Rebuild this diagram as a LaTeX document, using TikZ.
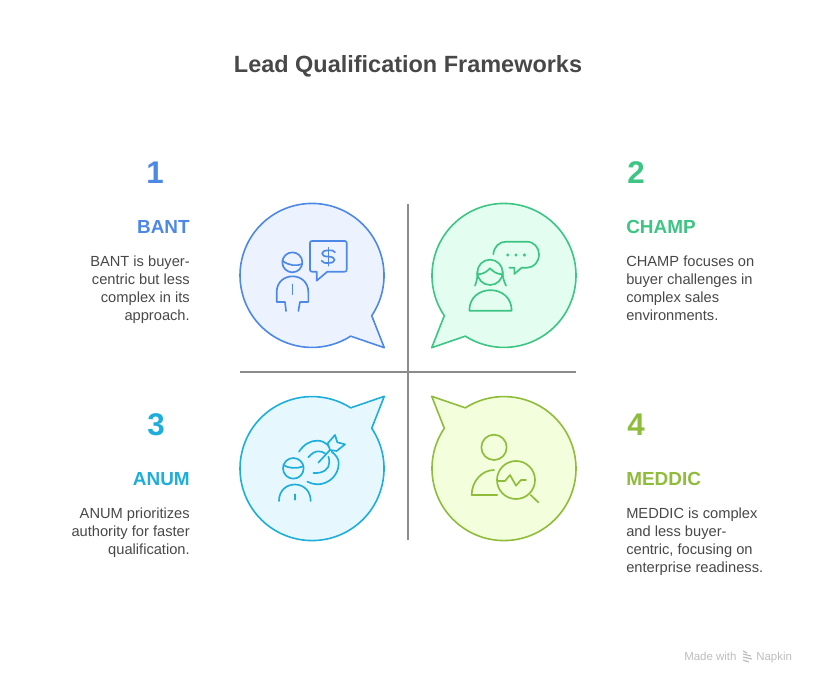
\documentclass[tikz,border=0pt]{standalone}
\usepackage{fontspec}
\setmainfont{Liberation Sans}
\usepackage{xcolor}
\usepackage{tikz}
\usetikzlibrary{calc}

\definecolor{bantline}{HTML}{4E88E7}
\definecolor{bantfill}{HTML}{EDF3FE}
\definecolor{champline}{HTML}{3CC583}
\definecolor{champfill}{HTML}{E3FDF0}
\definecolor{anumline}{HTML}{1EAEDB}
\definecolor{anumfill}{HTML}{E6F8FE}
\definecolor{meddicline}{HTML}{8FBC3A}
\definecolor{meddicfill}{HTML}{F3FEDD}
\definecolor{bodygray}{HTML}{484848}
\definecolor{axisgray}{HTML}{8C8C8C}
\definecolor{markgray}{HTML}{BDBDBD}

\tikzset{
  bubble/.style={line width=1.2pt,line join=round},
  iconline/.style={line width=1.25pt,line cap=round,line join=round},
  axisline/.style={axisgray,line width=1.1pt},
  titletext/.style={font=\fontsize{17.6pt}{22pt}\selectfont\bfseries,text=bodygray,inner sep=0pt},
  numtext/.style={font=\fontsize{23.5pt}{28pt}\selectfont\bfseries,inner sep=0pt},
  nametext/.style={font=\fontsize{14.2pt}{18pt}\selectfont\bfseries,inner sep=0pt},
  bodytext/.style={font=\fontsize{11pt}{13.5pt}\selectfont,text=bodygray,inner sep=0pt},
  marktext/.style={font=\fontsize{8.6pt}{10pt}\selectfont,text=markgray,inner sep=0pt}
}

\begin{document}
\begin{tikzpicture}[x=0.75pt,y=0.75pt,yscale=-1]
\useasboundingbox (0,0) rectangle (816,684);

\node[titletext] (title) at (408,66) {Lead Qualification Frameworks};

\draw[bubble,draw=bantline,fill=bantfill] (371.7,315.7) arc[start angle=34,end angle=-302.5,radius=72] -- (384.3,347.7) -- cycle;	% bubble 1
\draw[bubble,draw=champline,fill=champfill] (444.3,315.7) arc[start angle=146,end angle=482.5,radius=72] -- (431.7,347.7) -- cycle;	% bubble 2
\draw[bubble,draw=anumline,fill=anumfill] (371.7,428.3) arc[start angle=-34,end angle=302.5,radius=72] -- (384.3,396.3) -- cycle;	% bubble 3
\draw[bubble,draw=meddicline,fill=meddicfill] (444.3,428.3) arc[start angle=214,end angle=-122.5,radius=72] -- (431.7,396.3) -- cycle;	% bubble 4

\coordinate (axistop) at (408,204);
\coordinate (axisbottom) at (408,540);
\coordinate (axisleft) at (240,372);
\coordinate (axisright) at (576,372);
\draw[axisline] (axistop) -- (axisbottom);
\draw[axisline] (axisleft) -- (axisright);

% icon 1: person with dollar speech box
\begin{scope}[shift={(230,195)},x=0.25pt,y=0.25pt,iconline,draw=bantline]
\draw (187,202) circle[radius=30];
\draw (157,197) .. controls (175,212) and (200,214) .. (217,207);
\draw (168,348) -- (165,321) -- (140,321) -- (140,292) .. controls (140,228) and (235,228) .. (235,292) -- (235,321) -- (210,321) -- (205,348);
\draw (187,268) -- (187,298);
\draw (246,138) -- (344,138) .. controls (348,138) and (350,140) .. (350,144) -- (350,224) .. controls (350,228) and (348,230) .. (344,230) -- (292,230) -- (260,257) -- (260,230) -- (246,230) .. controls (242,230) and (240,228) .. (240,224) -- (240,144) .. controls (240,140) and (242,138) .. (246,138) -- cycle;
\draw (295,158) -- (295,212);
\draw (315,172) .. controls (312,166) and (306,166) .. (295,166) .. controls (270,166) and (270,185) .. (295,185) .. controls (320,185) and (320,204) .. (295,204) .. controls (284,204) and (278,204) .. (275,197);
\end{scope}

% icon 2: woman with round speech box
\begin{scope}[shift={(420,195)},x=0.25pt,y=0.25pt,iconline,draw=champline]
\draw (210,232) circle[radius=38];
\draw (172,230) .. controls (172,245) and (172,255) .. (165,272);
\draw (248,230) .. controls (248,245) and (250,255) .. (258,272);
\draw (172,238) .. controls (190,238) and (200,230) .. (210,220) .. controls (220,230) and (230,238) .. (248,238);
\draw (148,347) -- (275,347) .. controls (275,265) and (148,265) .. (148,347) -- cycle;
\draw (220,178) .. controls (222,155) and (238,140) .. (258,140) -- (320,140) .. controls (342,140) and (357,158) .. (357,178) .. controls (357,200) and (342,218) .. (322,218) -- (305,218) -- (283,237) -- (283,218) -- (268,218);
\foreach \dotx in {263,288,313}
  \fill[champline] (\dotx,180) circle[radius=5];
\end{scope}

% icon 3: person with target and dart
\begin{scope}[shift={(230,385)},x=0.25pt,y=0.25pt,iconline,draw=anumline]
\draw (190,250) circle[radius=31];
\draw (160,240) .. controls (175,250) and (200,252) .. (220,244);
\draw (147,348) .. controls (147,282) and (242,282) .. (242,348);
\draw (195,328) -- (195,344);
\draw (207,200) .. controls (222,178) and (240,167) .. (262,167) .. controls (275,167) and (285,172) .. (295,182);
\draw (305,200) .. controls (320,212) and (326,222) .. (326,235) .. controls (326,272) and (295,298) .. (262,298) .. controls (252,298) and (242,295) .. (232,290);
\draw (235,217) .. controls (245,205) and (255,199) .. (265,199) .. controls (272,199) and (280,201) .. (285,205);
\draw (295,215) .. controls (297,220) and (298,226) .. (298,232) .. controls (298,252) and (280,266) .. (250,264);
\draw (265,233) -- (300,195);
\draw (300,195) -- (293,175) -- (315,150) -- (322,172) -- (345,178) -- (320,198) -- cycle;
\end{scope}

% icon 4: person with magnifier
\begin{scope}[shift={(420,385)},x=0.25pt,y=0.25pt,iconline,draw=meddicline]
\draw (222,187) circle[radius=38];
\draw (222,255) .. controls (185,255) and (155,290) .. (155,330) -- (232,330);
\draw (288,285) circle[radius=57];
\draw (332,330) -- (355,352);
\draw (232,288) -- (255,288) -- (270,270) -- (288,302) -- (303,285) -- (318,285);
\end{scope}

\node[numtext,text=bantline] (num1) at (155,173) {1};
\node[numtext,text=champline] (num2) at (636,173) {2};
\node[numtext,text=anumline] (num3) at (156,425) {3};
\node[numtext,text=meddicline] (num4) at (636,425) {4};

\node[nametext,text=bantline,anchor=east] (name1) at (190,227) {BANT};
\node[nametext,text=champline,anchor=west] (name2) at (626,227) {CHAMP};
\node[nametext,text=anumline,anchor=east] (name3) at (190,479) {ANUM};
\node[nametext,text=meddicline,anchor=west] (name4) at (626,479) {MEDDIC};

\node[bodytext,align=right,anchor=north east] (text1) at (190,255.5) {BANT is buyer-\\centric but less\\complex in its\\approach.};
\node[bodytext,align=left,anchor=north west] (text2) at (626,255.5) {CHAMP focuses on\\buyer challenges in\\complex sales\\environments.};
\node[bodytext,align=right,anchor=north east] (text3) at (190,507.5) {ANUM prioritizes\\authority for faster\\qualification.};
\node[bodytext,align=left,anchor=north west] (text4) at (626,507.5) {MEDDIC is complex\\and less buyer-\\centric, focusing on\\enterprise readiness.};

% Napkin mark
\node[marktext,anchor=base west] (madewith) at (684,660.5) {Made with};
\node[marktext,anchor=base west] (napkin) at (756,660.5) {Napkin};
\foreach \marky/\markx in {651.5/747,654.5/751,657.5/752,660.5/749}
  \draw[markgray,line width=0.9pt] (743,\marky-0.5) -- (\markx,\marky+1.5);

\end{tikzpicture}
\end{document}
